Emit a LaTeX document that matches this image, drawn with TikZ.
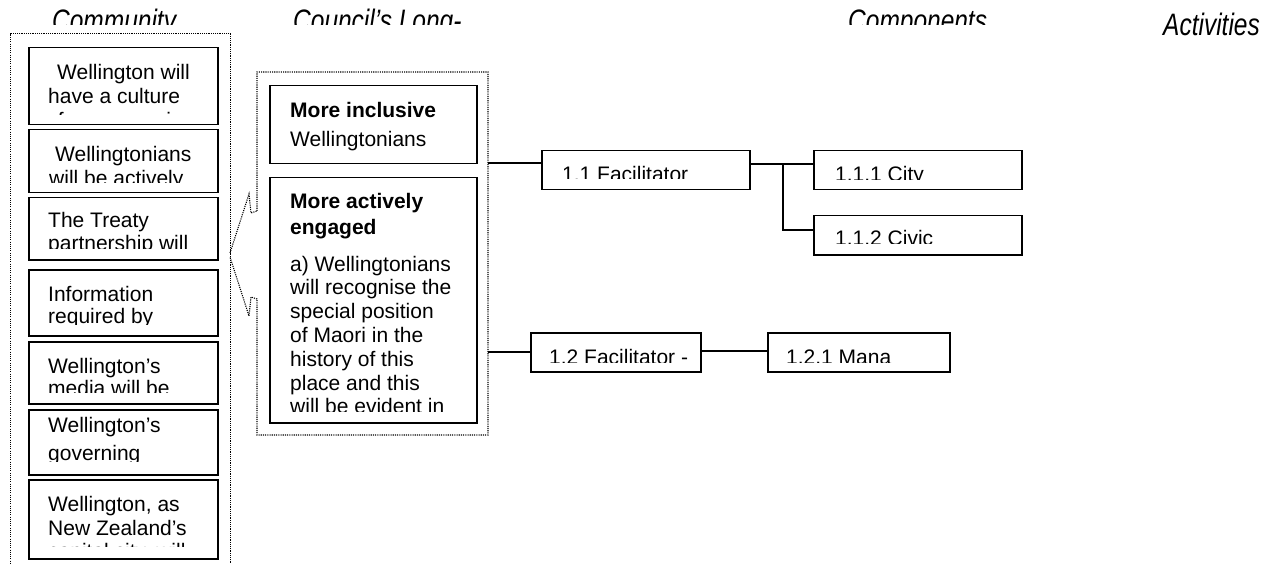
\documentclass[tikz,border=0pt]{standalone}
\usepackage{fontspec}
\setmainfont{Liberation Sans}
\newfontfamily\titlefont[FakeStretch=0.79]{Liberation Sans}
\newcommand\bodyfont{\fontsize{21}{23}\selectfont}
\newcommand\colheadfont{\titlefont\itshape\fontsize{31}{34}\selectfont}
\tikzset{
  box/.style={draw, line width=1.5pt, inner sep=0pt, anchor=north west},
  grp/.style={draw, line width=1.1pt, dash pattern=on 1.1pt off 1.1pt},
  txt/.style={anchor=base west, inner sep=0pt, font=\bodyfont},
  ttl/.style={anchor=base west, inner sep=0pt, font=\colheadfont},
  link/.style={line width=1.5pt},
}
\begin{document}
\begin{tikzpicture}[x=1pt,y=-1pt]
\useasboundingbox[fill=white] (0,0) rectangle (1266,564);

% column headings (the first three are cut off by their frames)
\begin{scope}
  \clip (0,0) rectangle (1266,25);
  \node[ttl] (hComm) at (52,31.5) {Community};
  \node[ttl] (hLong) at (293,31.5) {Council’s Long-};
  \node[ttl] (hComp) at (848,31.5) {Components};
\end{scope}
\node[ttl] (hAct) at (1163,35.5) {Activities};

% community outcomes group
\node[grp, inner sep=0pt, anchor=north west, minimum width=220pt, minimum height=540pt] (grpL) at (10,33) {};

\node[box, minimum width=189pt, minimum height=77pt] (c1) at (28,47) {};
\begin{scope}
  \clip (28,47) rectangle (217,115);
  \node[txt] (c1a) at (57,80) {Wellington will};
  \node[txt] (c1b) at (48,103.5) {have a culture};
  \node[txt] (c1c) at (46,127.5) {of openness in};
\end{scope}

\node[box, minimum width=189pt, minimum height=63pt] (c2) at (28,129) {};
\begin{scope}
  \clip (28,129) rectangle (217,182.7);
  \node[txt] (c2a) at (55,162) {Wellingtonians};
  \node[txt] (c2b) at (49,186) {will be actively};
\end{scope}

\node[box, minimum width=189pt, minimum height=62pt] (c3) at (28,197) {};
\begin{scope}
  \clip (28,197) rectangle (217,248.5);
  \node[txt] (c3a) at (48,227.5) {The Treaty};
  \node[txt] (c3b) at (48,251) {partnership will};
\end{scope}

\node[box, minimum width=189pt, minimum height=66pt] (c4) at (28,269) {};
\begin{scope}
  \clip (28,269) rectangle (217,324.5);
  \node[txt] (c4a) at (48,301) {Information};
  \node[txt] (c4b) at (48,323.5) {required by};
\end{scope}

\node[box, minimum width=189pt, minimum height=62pt] (c5) at (28,341) {};
\begin{scope}
  \clip (28,341) rectangle (217,392.5);
  \node[txt] (c5a) at (48,373) {Wellington’s};
  \node[txt] (c5b) at (48,395.5) {media will be};
\end{scope}

\node[box, minimum width=189pt, minimum height=65pt] (c6) at (28,409) {};
\begin{scope}
  \clip (28,409) rectangle (217,461.5);
  \node[txt] (c6a) at (48,432) {Wellington’s};
  \node[txt] (c6b) at (48,460) {governing};
\end{scope}

\node[box, minimum width=189pt, minimum height=79pt] (c7) at (28,479) {};
\begin{scope}
  \clip (28,479) rectangle (217,546);
  \node[txt] (c7a) at (48,511) {Wellington, as};
  \node[txt] (c7b) at (48,535) {New Zealand’s};
  \node[txt] (c7c) at (48,558) {capital city, will};
\end{scope}

% long-term outcomes group, drawn as a callout pointing at the community outcomes
\draw[grp] (257,211) -- (257,72) -- (488,72) -- (488,435) -- (257,435) -- (257,299)
  -- (251,297) -- (249,316) -- (230,257);
\draw[grp] (230,253) -- (249,194) -- (251,213) -- (257,211);

\node[box, minimum width=207pt, minimum height=78pt] (oA) at (269,85) {};
\node[txt, font=\bodyfont\bfseries] (oAa) at (290,118) {More inclusive};
\node[txt] (oAb) at (290,147) {Wellingtonians};

\node[box, minimum width=207pt, minimum height=245pt] (oB) at (269,177) {};
\begin{scope}
  \clip (269,177) rectangle (476,411.5);
  \node[txt, font=\bodyfont\bfseries] (oBa) at (290,209) {More actively};
  \node[txt, font=\bodyfont\bfseries] (oBb) at (290,234) {engaged};
  \node[txt] (oBc) at (290,271) {a) Wellingtonians};
  \node[txt] (oBd) at (290,294.8) {will recognise the};
  \node[txt] (oBe) at (290,318.6) {special position};
  \node[txt] (oBf) at (290,342.4) {of Maori in the};
  \node[txt] (oBg) at (290,366.2) {history of this};
  \node[txt] (oBh) at (290,390) {place and this};
  \node[txt] (oBi) at (290,413.8) {will be evident in};
\end{scope}

% components
\node[box, minimum width=208pt, minimum height=39pt] (f11) at (541,150) {};
\begin{scope}
  \clip (541,150) rectangle (749,178.5);
  \node[txt] (f11t) at (562,182) {1.1 Facilitator};
\end{scope}

\node[box, minimum width=170pt, minimum height=39pt] (f12) at (530,332) {};
\begin{scope}
  \clip (530,332) rectangle (700,362);
  \node[txt] (f12t) at (549,364) {1.2 Facilitator -};
\end{scope}

% activities
\node[box, minimum width=208pt, minimum height=39pt] (c111) at (813,150) {};
\begin{scope}
  \clip (813,150) rectangle (1021,180);
  \node[txt] (c111t) at (835,182) {1.1.1 City};
\end{scope}

\node[box, minimum width=208pt, minimum height=39pt] (c112) at (813,215) {};
\begin{scope}
  \clip (813,215) rectangle (1021,243.5);
  \node[txt] (c112t) at (835,245.5) {1.1.2 Civic};
\end{scope}

\node[box, minimum width=182pt, minimum height=39pt] (c121) at (767,332) {};
\begin{scope}
  \clip (767,332) rectangle (949,362);
  \node[txt] (c121t) at (786,364) {1.2.1 Mana};
\end{scope}

% connectors
\coordinate (j11) at (783,164);
\draw[link] (488,163) -- (f11.west |- 0,163);
\draw[link] (f11.east |- j11) -- (j11) -- (c111.west |- j11);
\draw[link] (j11) |- (c112.west |- 0,230);
\draw[link] (488,352) -- (f12.west |- 0,352);
\draw[link] (f12.east |- 0,351) -- (c121.west |- 0,351);
\end{tikzpicture}
\end{document}
